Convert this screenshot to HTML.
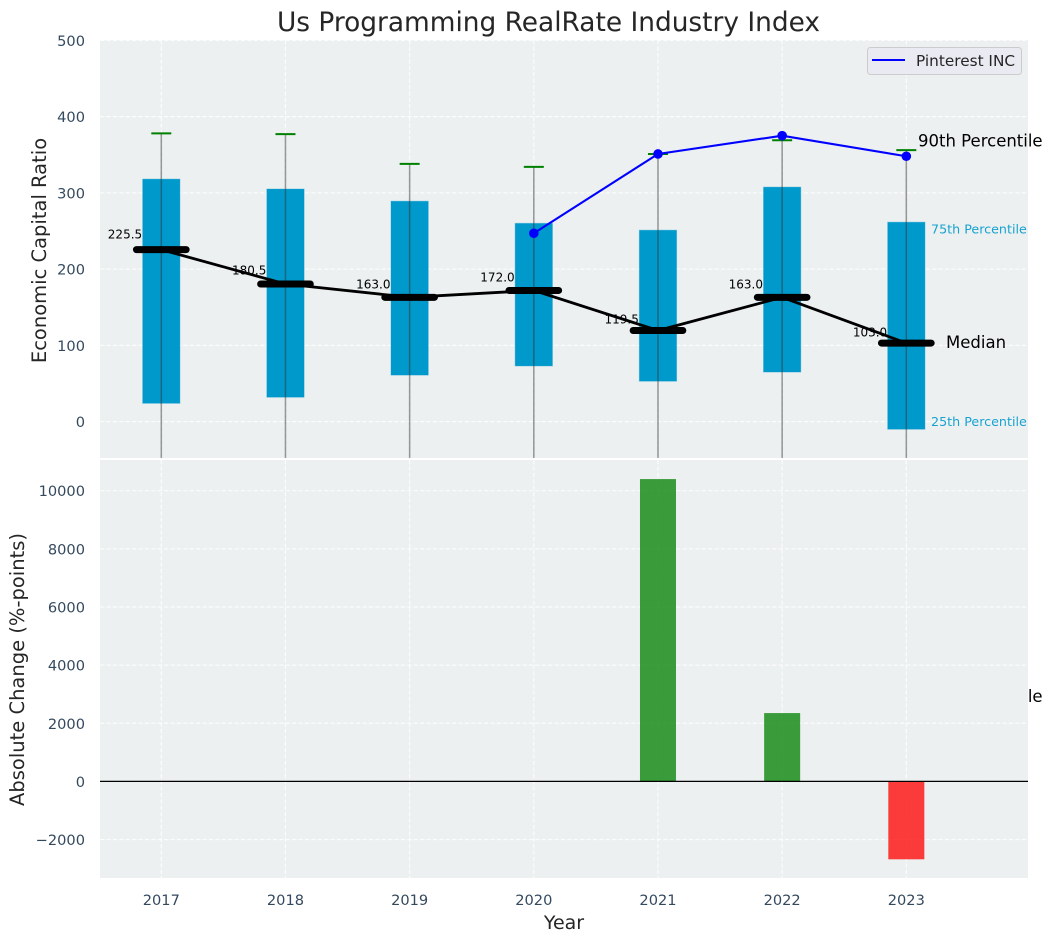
<!DOCTYPE html>
<html lang="en">
<head>
<meta charset="utf-8">
<title>Us Programming RealRate Industry Index</title>
<style>
html,body{margin:0;padding:0;background:#fff;}
body{width:1053px;height:942px;overflow:hidden;}
svg{display:block;font-family:"DejaVu Sans","Liberation Sans",sans-serif;}
</style>
</head>
<body>
<svg id="chart" xmlns="http://www.w3.org/2000/svg" width="1053" height="942" viewBox="0 0 1053 942">
  <defs>
    <clipPath id="clip-top"><rect x="100" y="40" width="928" height="418"/></clipPath>
  </defs>
  <text x="548.5" y="31" text-anchor="middle" font-size="26.4" fill="#262626">Us Programming RealRate Industry Index</text>
  <rect x="100" y="40" width="928" height="418" fill="#ecf0f1"/>
  <g id="top-layer"></g>
  <text x="918" y="702" font-size="16.5" fill="#000">10th Percentile</text>
  <rect x="100" y="460" width="928" height="418" fill="#ecf0f1"/>
  <g id="bottom-layer"></g>
  <text transform="translate(46,250.5) rotate(-90)" text-anchor="middle" font-size="19.5" fill="#262626">Economic Capital Ratio</text>
  <text transform="translate(24,669.5) rotate(-90)" text-anchor="middle" font-size="19.5" fill="#262626">Absolute Change (%-points)</text>
  <text x="564" y="929" text-anchor="middle" font-size="19" fill="#262626">Year</text>
  <g>
    <rect x="867.5" y="47.5" width="154" height="27" rx="3" fill="#eaeaf2" fill-opacity="0.9" stroke="#cccccc"/>
    <line x1="872" y1="60" x2="905" y2="60" stroke="#0000ff" stroke-width="2"/>
    <text x="916" y="66" font-size="15.3" fill="#262626">Pinterest INC</text>
  </g>
</svg>
<script>
const years = [2017, 2018, 2019, 2020, 2021, 2022, 2023];
const q75 = [318, 305, 289, 260, 251, 307.5, 261.5];
const q25 = [24, 32, 61, 73, 53, 65, -10];
const medians = [225.5, 180.5, 163.0, 172.0, 119.5, 163.0, 103.0];
const p90 = [378, 377, 338, 334, 351, 369, 356];
const p10 = [-90, -90, -90, -90, -90, -90, -90];
const pinterestYears = [2020, 2021, 2022, 2023];
const pinterestValues = [247, 351, 375, 348];
const changeYears = [2021, 2022, 2023];
const changeValues = [10400, 2350, -2680];
const topTicks = [0, 100, 200, 300, 400, 500];
const bottomTicks = [-2000, 0, 2000, 4000, 6000, 8000, 10000];

const NS = 'http://www.w3.org/2000/svg';
const topLayer = document.getElementById('top-layer');
const bottomLayer = document.getElementById('bottom-layer');

function x(year) { return 161.3 + (year - 2017) * 124.17; }
function yTop(v) { return 421.6 - v * 0.7625; }
function yBottom(v) { return 781.4 - v * 0.02907; }

function make(parent, tag, attrs, text) {
  const node = document.createElementNS(NS, tag);
  Object.keys(attrs).forEach(function (k) { node.setAttribute(k, attrs[k]); });
  if (text !== undefined) node.textContent = text;
  parent.appendChild(node);
  return node;
}
function fmtTick(v) { return v < 0 ? '\u2212' + Math.abs(v) : String(v); }

const gridStyle = { stroke: '#ffffff', 'stroke-width': 1.2, 'stroke-dasharray': '4.4 2', 'stroke-opacity': 0.8, fill: 'none' };

/* ---------- top plot: grid ---------- */
topTicks.forEach(function (t) {
  const el = make(topLayer, 'line', Object.assign({ x1: 100, x2: 1028, y1: yTop(t), y2: yTop(t) }, gridStyle));
  
  
  const lab = make(topLayer, 'text', { x: 85, y: yTop(t) + 5.5, 'text-anchor': 'end', 'font-size': 14.6, fill: '#34495e' }, fmtTick(t));
  
  
});
years.forEach(function (yr) {
  const el = make(topLayer, 'line', Object.assign({ x1: x(yr), x2: x(yr), y1: 40, y2: 458 }, gridStyle));
  
  
});

/* ---------- top plot: median value labels (below the boxes) ---------- */
years.forEach(function (yr, i) {
  const m = medians[i];
  const el = make(topLayer, 'text', { x: x(yr) - 53.5, y: yTop(m + 8 + 0.05 * m) + 3.5, 'font-size': 12, fill: '#000' }, m.toFixed(1));
  
  
});

/* ---------- top plot: boxes ---------- */
years.forEach(function (yr, i) {
  const half = 0.15 * 124.17;
  const el = make(topLayer, 'rect', {
    x: x(yr) - half, y: yTop(q75[i]), width: half * 2, height: yTop(q25[i]) - yTop(q75[i]),
    fill: '#0099cc', stroke: '#0099cc', 'stroke-opacity': 0.35, 'stroke-width': 1
  });
  
  
});

/* ---------- top plot: whiskers and caps ---------- */
years.forEach(function (yr, i) {
  const w = make(topLayer, 'line', {
    x1: x(yr), x2: x(yr), y1: yTop(p90[i]), y2: yTop(p10[i]),
    stroke: '#333333', 'stroke-opacity': 0.5, 'stroke-width': 1.5, 'clip-path': 'url(#clip-top)'
  });
  
  
  const c = make(topLayer, 'line', {
    x1: x(yr) - 10, x2: x(yr) + 10, y1: yTop(p90[i]), y2: yTop(p90[i]),
    stroke: '#008000', 'stroke-width': 2
  });
  
  
});

/* ---------- top plot: median trend ---------- */
const medianPath = make(topLayer, 'polyline', {
  points: years.map(function (yr, i) { return x(yr) + ',' + yTop(medians[i]); }).join(' '),
  fill: 'none', stroke: '#000', 'stroke-width': 2.8
});



years.forEach(function (yr, i) {
  const el = make(topLayer, 'line', {
    x1: x(yr - 0.2), x2: x(yr + 0.2), y1: yTop(medians[i]), y2: yTop(medians[i]),
    stroke: '#000', 'stroke-width': 7, 'stroke-linecap': 'round'
  });
  
  
});

/* ---------- top plot: Pinterest series ---------- */
const pinterestLine = make(topLayer, 'polyline', {
  points: pinterestYears.map(function (yr, i) { return x(yr) + ',' + yTop(pinterestValues[i]); }).join(' '),
  fill: 'none', stroke: '#0000ff', 'stroke-width': 2.1
});


pinterestYears.forEach(function (yr, i) {
  const el = make(topLayer, 'circle', { cx: x(yr), cy: yTop(pinterestValues[i]), r: 4.8, fill: '#0000ff' });
  
  
});

/* ---------- top plot: percentile annotations ---------- */
const lastYear = years[years.length - 1];
const lastIdx = years.length - 1;
const a90 = make(topLayer, 'text', { x: x(lastYear) + 11.7, y: yTop(p90[lastIdx]) - 3.5, 'font-size': 16.5, fill: '#000' }, '90th Percentile');


const a75 = make(topLayer, 'text', { x: x(lastYear) + 24.7, y: yTop(q75[lastIdx]) + 11.3, 'font-size': 12.7, fill: '#0099cc', 'fill-opacity': 0.9 }, '75th Percentile');


const a25 = make(topLayer, 'text', { x: x(lastYear) + 24.7, y: yTop(q25[lastIdx]) - 3.2, 'font-size': 12.7, fill: '#0099cc', 'fill-opacity': 0.9 }, '25th Percentile');


const aMed = make(topLayer, 'text', { x: x(lastYear) + 39.7, y: yTop(medians[lastIdx]) + 5, 'font-size': 16.5, fill: '#000' }, 'Median');



/* ---------- bottom plot: grid and ticks ---------- */
bottomTicks.forEach(function (t) {
  const el = make(bottomLayer, 'line', Object.assign({ x1: 100, x2: 1028, y1: yBottom(t), y2: yBottom(t) }, gridStyle));
  
  
  const lab = make(bottomLayer, 'text', { x: 85, y: yBottom(t) + 5.5, 'text-anchor': 'end', 'font-size': 14.6, fill: '#34495e' }, fmtTick(t));
  
  
});
years.forEach(function (yr) {
  const el = make(bottomLayer, 'line', Object.assign({ x1: x(yr), x2: x(yr), y1: 460, y2: 878 }, gridStyle));
  
  
  const lab = make(bottomLayer, 'text', { x: x(yr), y: 905, 'text-anchor': 'middle', 'font-size': 14.6, fill: '#34495e' }, String(yr));
  
  
});

/* ---------- bottom plot: change bars ---------- */
changeYears.forEach(function (yr, i) {
  const v = changeValues[i];
  const half = 0.145 * 124.17;
  const top = Math.min(yBottom(v), yBottom(0));
  const h = Math.abs(yBottom(v) - yBottom(0));
  const el = make(bottomLayer, 'rect', {
    x: x(yr) - half, y: top, width: half * 2, height: h,
    fill: v >= 0 ? '#008000' : '#ff0000', 'fill-opacity': 0.76
  });
  
  
});

const zero = make(bottomLayer, 'line', { x1: 100, x2: 1028, y1: yBottom(0), y2: yBottom(0), stroke: '#000', 'stroke-width': 1.2 });


</script>
</body>
</html>
